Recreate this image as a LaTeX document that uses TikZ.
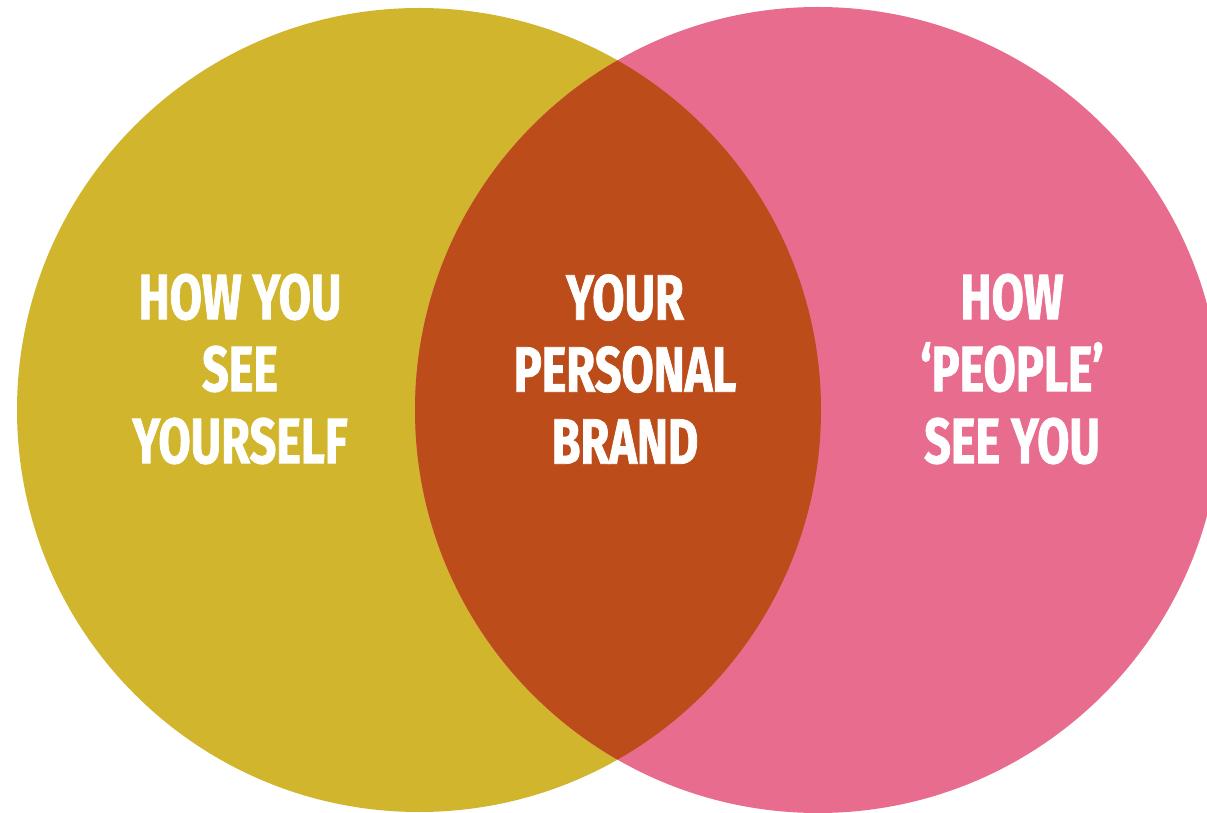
\documentclass[tikz,border=0pt]{standalone}
\usepackage{fontspec}
\setmainfont{Fira Sans}[FakeStretch=0.73,BoldFeatures={FakeBold=1.2}]
\definecolor{cyellow}{HTML}{D1B52D}
\definecolor{cpink}{HTML}{E86C8D}
\definecolor{cover}{HTML}{BC4D1A}
\begin{document}
\begin{tikzpicture}[x=1pt,y=1pt,
  lbl/.style={text=white,font=\fontsize{64}{72}\selectfont\bfseries,align=center,inner sep=0pt}]
\useasboundingbox (0,0) rectangle (1207,812);
\fill[white] (0,0) rectangle (1207,812);
\fill[cyellow] (419,402) circle (402);
\fill[cpink] (818,402) circle (403);
\begin{scope}
\clip (419,402) circle (402);
\fill[cover] (818,402) circle (403);
\end{scope}
\node[lbl] (left) at (240,443) {HOW YOU\\SEE\\YOURSELF};
\node[lbl] (mid) at (625,443) {YOUR\\PERSONAL\\BRAND};
\node[lbl] (right) at (1012,443) {HOW\\‘PEOPLE’\\SEE YOU};
\end{tikzpicture}
\end{document}
